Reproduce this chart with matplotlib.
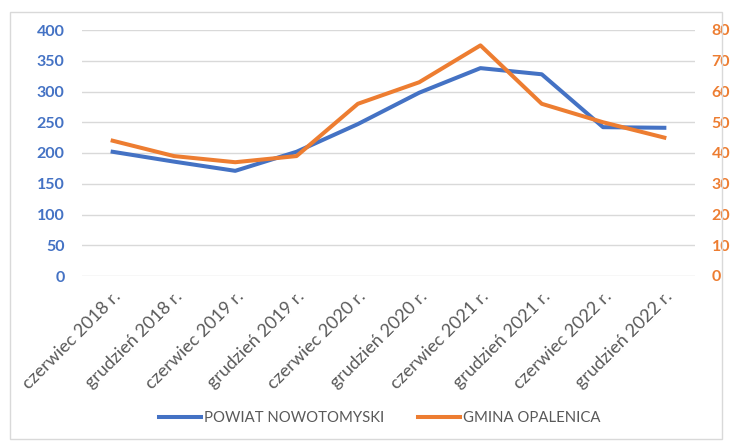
import matplotlib
matplotlib.use("Agg")
import matplotlib.pyplot as plt
from matplotlib.patches import Rectangle

categories = ["czerwiec 2018 r.", "grudzień 2018 r.", "czerwiec 2019 r.", "grudzień 2019 r.",
              "czerwiec 2020 r.", "grudzień 2020 r.", "czerwiec 2021 r.", "grudzień 2021 r.",
              "czerwiec 2022 r.", "grudzień 2022 r."]
powiat = [202, 186, 171, 202, 247, 298, 338, 328, 242, 241]
gmina = [44, 39, 37, 39, 56, 63, 75, 56, 50, 45]
left_ticks = [0, 50, 100, 150, 200, 250, 300, 350, 400]
right_ticks = [0, 10, 20, 30, 40, 50, 60, 70, 80]

BLUE = "#4472C4"
ORANGE = "#ED7D31"
GRAY = "#595959"
plt.rcParams['font.family'] = ['Lato', 'DejaVu Sans']

fig = plt.figure(figsize=(7.32, 4.42), dpi=100)
fig.patches.append(Rectangle((10/732, 3/442), 712/732, 427/442, transform=fig.transFigure,
                             fill=False, edgecolor="#D9D9D9", linewidth=1))
ax = fig.add_axes([82/732, 1 - 276/442, 613/732, 246/442])
ax2 = ax.twinx()

x = list(range(len(categories)))
l1, = ax.plot(x, powiat, color=BLUE, linewidth=2.9, label="POWIAT NOWOTOMYSKI")
l2, = ax2.plot(x, gmina, color=ORANGE, linewidth=2.9, label="GMINA OPALENICA")

ax.set_xlim(-0.5, len(categories) - 0.5)
ax.set_ylim(0, 400)
ax2.set_ylim(0, 80)
ax.set_yticks(left_ticks)
ax2.set_yticks(right_ticks)
ax.grid(axis="y", color="#D9D9D9", linewidth=1)
ax.set_axisbelow(True)
for a in (ax, ax2):
    for s in a.spines.values():
        s.set_visible(False)
ax.tick_params(axis="y", length=0, pad=12.5, labelcolor=BLUE, labelsize=11.5)
ax2.tick_params(axis="y", length=0, pad=12, labelcolor=ORANGE, labelsize=11.5)
for lab in ax.get_yticklabels():
    lab.set_fontweight("bold")
for lab in ax2.get_yticklabels():
    lab.set_fontweight("bold")
ax.set_xticks(x)
ax.set_xticklabels(categories, rotation=45, ha="right", rotation_mode="anchor",
                   color=GRAY, fontsize=13)
ax.tick_params(axis="x", length=0, pad=9)

fig.legend(handles=[l1, l2], loc="center", bbox_to_anchor=(379.5/732, 1 - 418/442), ncol=2,
           frameon=False, fontsize=10.7, labelcolor=GRAY, handlelength=2.8,
           columnspacing=2.3, handletextpad=0.2)

fig.savefig("out.png", dpi=100)
